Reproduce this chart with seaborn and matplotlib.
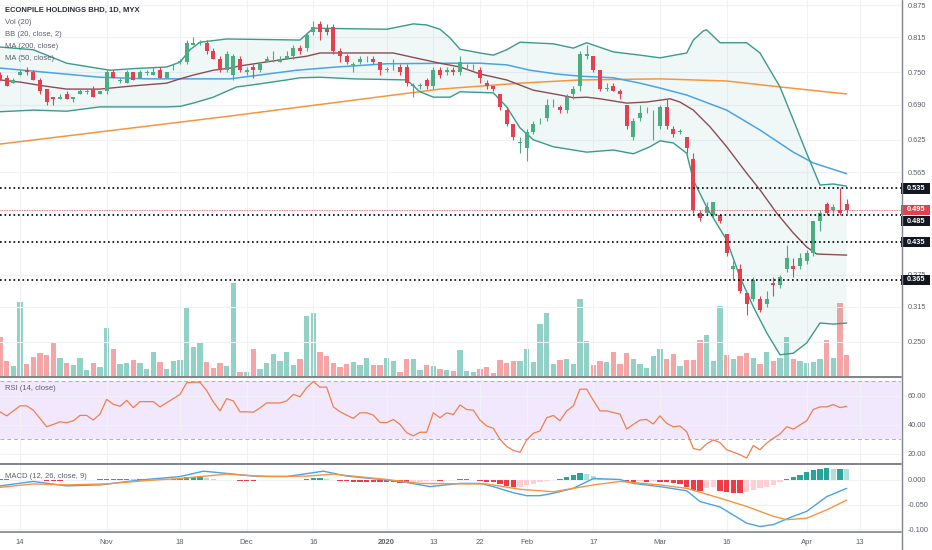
import numpy as np
import matplotlib
matplotlib.use("Agg")
import matplotlib.pyplot as plt
import seaborn as sns
from matplotlib.lines import Line2D
from matplotlib.patches import Rectangle

# ---------------- data (bar index 0 = 14 Oct 2019) ----------------
bar_idx = list(range(-3, 125))

open_ = [.745, .740, .730, .745, .755, .750, .735, .720, .705, .700,
         .710, .700, .710, .715, .720, .710, .715, .750, .735, .730,
         .750, .740, .750, .745, .755, .740, .760, .770, .770, .800,
         .805, .805, .790, .775, .755, .745, .775, .750, .760, .755,
         .770, .775, .770, .775, .780, .795, .795, .825, .840, .830,
         .835, .790, .780, .765, .770, .775, .775, .770, .755, .760,
         .760, .760, .725, .725, .735, .725, .755, .750, .755, .750,
         .760, .760, .755, .730, .725, .710, .680, .655, .620, .610,
         .640, .660, .665, .695, .685, .680, .710, .725, .780, .780,
         .755, .720, .725, .715, .690, .630, .665, .680, .660, .650,
         .685, .645, .640, .630, .590, .490, .490, .485, .485, .450,
         .385, .385, .340, .330, .330, .320, .360, .355, .385, .390,
         .390, .400, .415, .475, .505, .495, .495, .505]
high = [.750, .745, .740, .755, .760, .755, .740, .720, .705, .710,
        .715, .705, .720, .720, .725, .715, .755, .755, .740, .755,
        .750, .755, .755, .760, .760, .750, .765, .775, .810, .815,
        .810, .810, .795, .780, .790, .785, .780, .760, .765, .770,
        .780, .790, .780, .790, .800, .800, .825, .845, .845, .840,
        .840, .795, .785, .770, .780, .780, .780, .770, .760, .775,
        .765, .765, .730, .730, .740, .760, .760, .760, .760, .780,
        .765, .765, .760, .735, .725, .710, .685, .655, .630, .645,
        .660, .665, .700, .700, .690, .710, .725, .790, .800, .780,
        .755, .730, .730, .720, .690, .665, .690, .685, .680, .690,
        .700, .650, .645, .630, .600, .495, .510, .510, .485, .450,
        .400, .395, .340, .370, .335, .345, .370, .375, .430, .405,
        .415, .420, .475, .495, .510, .505, .535, .515]
low = [.735, .725, .730, .745, .745, .735, .710, .690, .690, .700,
       .700, .695, .710, .710, .705, .710, .710, .740, .730, .730,
       .735, .740, .745, .745, .740, .740, .755, .765, .765, .800,
       .800, .785, .775, .750, .750, .735, .750, .745, .740, .750,
       .770, .770, .770, .775, .775, .785, .790, .820, .810, .820,
       .785, .770, .765, .750, .765, .770, .765, .745, .750, .755,
       .745, .725, .705, .720, .720, .720, .740, .745, .745, .745,
       .755, .755, .730, .720, .715, .680, .650, .625, .600, .585,
       .635, .655, .660, .685, .675, .675, .700, .715, .775, .750,
       .715, .715, .715, .700, .645, .625, .660, .675, .625, .645,
       .645, .630, .635, .600, .490, .475, .485, .480, .470, .410,
       .365, .340, .300, .325, .305, .315, .335, .350, .380, .370,
       .385, .395, .410, .455, .485, .490, .485, .490]
close = [.735, .725, .735, .750, .750, .735, .715, .695, .700, .705,
         .700, .705, .715, .715, .705, .715, .750, .740, .735, .750,
         .735, .750, .750, .750, .740, .750, .760, .770, .805, .805,
         .805, .790, .775, .755, .785, .780, .755, .755, .755, .765,
         .775, .775, .775, .780, .795, .790, .820, .835, .825, .825,
         .790, .780, .770, .765, .775, .775, .770, .755, .755, .760,
         .750, .730, .725, .725, .725, .755, .745, .755, .750, .770,
         .760, .760, .740, .725, .720, .685, .655, .630, .620, .640,
         .655, .660, .690, .695, .680, .705, .720, .785, .785, .755,
         .720, .720, .715, .710, .650, .660, .675, .680, .660, .685,
         .650, .635, .640, .610, .495, .480, .500, .510, .475, .415,
         .390, .345, .320, .365, .310, .330, .355, .370, .405, .385,
         .405, .415, .475, .490, .490, .500, .490, .495]

volume = [39, 15, 10, 74, 12, 19, 23, 21, 33, 18,
          13, 11, 18, 6, 13, 9, 48, 27, 12, 13,
          16, 13, 7, 24, 14, 7, 15, 16, 69, 29,
          33, 14, 8, 13, 10, 93, 4, 4, 27, 7,
          13, 22, 15, 24, 11, 17, 60, 63, 24, 20,
          13, 9, 12, 14, 11, 18, 11, 11, 18, 15,
          4, 17, 17, 6, 11, 10, 7, 6, 5, 26,
          5, 4, 7, 9, 3, 16, 13, 15, 15, 27,
          14, 52, 63, 12, 16, 17, 12, 77, 35, 11,
          15, 14, 24, 12, 23, 17, 12, 8, 20, 27,
          17, 22, 10, 16, 16, 36, 41, 15, 70, 21,
          17, 20, 23, 18, 12, 24, 15, 18, 39, 17,
          15, 13, 14, 17, 36, 18, 73, 21]
volume_up = [0, 0, 1, 1, 0, 0, 0, 0, 0, 1,
             0, 1, 1, 1, 0, 1, 1, 0, 1, 1,
             0, 1, 1, 1, 0, 1, 1, 1, 1, 1,
             1, 0, 0, 0, 1, 1, 0, 1, 0, 1,
             1, 1, 1, 1, 1, 0, 1, 1, 0, 0,
             0, 0, 0, 1, 1, 1, 0, 0, 1, 1,
             0, 0, 1, 1, 0, 1, 0, 1, 0, 1,
             1, 1, 0, 0, 0, 0, 0, 0, 1, 1,
             1, 1, 1, 1, 0, 1, 1, 1, 1, 0,
             0, 1, 0, 0, 0, 1, 1, 1, 1, 1,
             0, 0, 1, 0, 0, 0, 1, 1, 1, 0,
             1, 0, 0, 1, 0, 1, 0, 1, 1, 0,
             1, 1, 1, 1, 0, 1, 0, 0]

ma200_idx = [-3, 31.5, 63, 75, 84, 96, 106, 114, 124]
ma200_val = [.617, .669, .719, .730, .736, .738, .734, .723, .710]

ma50_idx = [-3, 12, 19, 31.5, 41.5, 47.5, 55, 64.5, 69, 73, 76.5, 80.5, 84, 89,
            93, 96, 100, 106, 111, 116, 119, 124]
ma50_val = [.758, .741, .738, .738, .754, .760, .766, .767, .767, .764, .754, .747,
            .743, .740, .730, .721, .708, .680, .643, .602, .582, .562]

bb_mid_idx = [-3, 0, 3.5, 7, 12, 17, 22, 24, 26, 29, 31.5, 33, 40, 43, 45, 50, 56,
              60, 63, 66, 69, 73, 77, 81, 83, 85, 87, 91, 94, 97.5, 99, 101, 103.5,
              106, 109, 111, 113.5, 116, 118, 119.5, 124]
bb_mid_val = [.736, .732, .725, .719, .719, .725, .730, .738, .745, .754, .758, .762,
              .775, .780, .786, .786, .786, .775, .767, .760, .747, .736, .717, .708,
              .703, .704, .701, .693, .695, .701, .695, .680, .649, .612, .563, .532,
              .489, .452, .426, .413, .411]

bb_up_idx = [-3, 2, 7, 13.5, 17, 22, 24, 25.5, 27, 31, 42, 44, 55, 59, 61, 63, 64.5,
             66, 69, 71, 73, 75, 80, 83, 85, 89, 93, 96, 100, 101, 102.5, 103, 105,
             109, 111, 114, 116, 118, 120, 122, 124]
bb_up_val = [.797, .792, .767, .754, .757, .760, .769, .792, .806, .812, .810, .832,
             .830, .840, .838, .830, .814, .793, .786, .782, .792, .806, .803, .795,
             .805, .788, .782, .777, .786, .810, .827, .829, .805, .805, .786, .723,
             .662, .600, .541, .543, .539]

bb_lo_idx = [-3, 2, 7, 12, 17, 22, 24, 26, 29, 32.5, 35, 40, 42, 45, 50, 58, 60, 62,
             64.5, 66, 71, 73, 75, 77, 80, 85, 89, 92, 94.5, 96, 98, 100, 101, 103,
             106, 108, 110, 112, 114, 116, 118, 120, 122, 124]
bb_lo_val = [.677, .680, .678, .686, .686, .686, .687, .693, .704, .723, .727, .736,
             .740, .741, .738, .736, .714, .704, .704, .714, .712, .686, .647, .625,
             .612, .602, .606, .599, .612, .623, .619, .600, .550, .500, .439, .370,
             .315, .267, .226, .229, .248, .285, .283, .285]

rsi = [48.9, 46.1, 49.5, 53.0, 53.0, 50.0, 44.3, 38.6, 40.2, 42.0,
       41.4, 42.7, 46.4, 46.4, 43.2, 47.3, 57.5, 54.1, 52.7, 56.8,
       51.8, 55.9, 55.9, 55.9, 52.3, 55.2, 58.0, 60.9, 68.9, 69.3,
       69.3, 63.6, 55.7, 49.5, 58.0, 56.4, 48.9, 48.9, 48.6, 51.6,
       55.0, 55.0, 55.0, 56.4, 60.9, 59.3, 65.5, 69.8, 65.9, 65.9,
       52.3, 48.9, 46.6, 44.3, 48.2, 48.2, 46.6, 41.6, 41.4, 43.6,
       40.2, 34.5, 32.3, 34.8, 34.8, 48.2, 44.8, 48.2, 47.0, 53.6,
       50.5, 50.0, 43.2, 39.1, 37.5, 30.0, 25.0, 22.3, 20.9, 29.5,
       34.1, 35.7, 44.8, 46.4, 42.7, 49.5, 53.0, 64.5, 64.5, 56.8,
       49.5, 49.5, 48.4, 47.3, 37.0, 40.2, 43.2, 43.6, 40.5, 46.1,
       40.9, 38.6, 39.1, 35.2, 23.6, 22.5, 26.8, 29.5, 27.7, 22.7,
       21.1, 19.3, 17.0, 25.7, 22.7, 27.3, 30.7, 33.6, 38.6, 37.0,
       39.8, 42.7, 50.5, 52.3, 52.3, 53.9, 51.8, 52.7]

macd_idx = [-3, 2, 7, 12, 18, 24, 27.5, 31, 35, 40, 43, 45.5, 49, 55, 58, 61.5, 66,
            69, 71, 74, 76, 78, 80, 83, 86, 90, 92, 96, 100, 102, 105, 109, 111, 113,
            116, 118, 121, 124]
macd_val = [-.012, -.003, -.012, -.010, .000, .007, .018, .0135, .008, .007, .013,
            .018, .008, .000, -.005, -.0135, -.007, -.007, -.0135, -.026, -.032,
            -.032, -.027, -.017, .003, .001, -.007, -.0135, -.022, -.044, -.055,
            -.088, -.095, -.091, -.074, -.064, -.034, -.017]
signal_idx = [-3, 2, 7, 13, 19, 24, 31, 37, 43, 47, 55, 60, 67, 70, 75, 80, 86, 90,
              96, 100, 105, 109, 113, 115, 118, 121, 124]
signal_val = [-.015, -.008, -.010, -.008, -.001, .003, .012, .007, .008, .012, .001,
              -.007, -.008, -.008, -.019, -.024, -.010, -.003, -.010, -.017, -.037,
              -.054, -.074, -.081, -.078, -.061, -.041]
macd_hist = [.002, .002, .001, .000, -.001, -.001, -.001, -.002, -.002, -.002,
             -.001, -.001, .000, .001, .001, .002, .003, .003, .003, .003,
             .002, .002, .001, .001, .001, .001, .002, .004, .006, .007,
             .008, .005, .002, .000, -.001, -.001, -.002, -.002, -.002, -.001,
             -.001, .000, .000, .000, .001, .001, .002, .004, .005, .002,
             -.001, -.003, -.003, -.004, -.004, -.004, -.004, -.004, -.004, -.005,
             -.006, -.007, -.006, -.004, -.003, -.002, -.002, -.001, .001, .002,
             .002, .001, -.002, -.004, -.005, -.008, -.012, -.015, -.0135, -.011,
             -.008, -.005, -.002, .001, .003, .007, .010, .0135, .012, .008,
             .005, .003, .001, .000, -.005, -.005, -.002, -.005, -.003, -.005,
             -.005, -.007, -.008, -.015, -.020, -.022, -.017, -.0135, -.022, -.024,
             -.026, -.027, -.024, -.020, -.017, -.0135, -.010, -.005, .003, .007,
             .010, .017, .020, .022, .024, .022, .022, .0215]

xtick_idx = [0, 13, 24, 34, 44, 55, 62, 69, 76, 86, 96, 106, 118, 126]
xtick_lbl = ["14", "Nov", "18", "Dec", "16", "2020", "13", "22", "Feb", "17",
             "Mar", "16", "Apr", "13"]
price_ticks = [0.875, 0.815, 0.750, 0.690, 0.625, 0.565, 0.375, 0.315, 0.250]
level_lines = [0.535, 0.485, 0.435, 0.365]
level_label_shift_px = [0, 6, 0, 0]
last_price = 0.495
rsi_ticks = [60, 40, 20]
macd_ticks = [0.0, -0.05, -0.1]
macd_tick_lbl = ["0.000", "-0.050", "-0.100"]

title = "ECONPILE HOLDINGS BHD, 1D, MYX"
legend_lines = ["Vol (20)", "BB (20, close, 2)", "MA (200, close)", "MA (50, close)"]

# ---------------- style ----------------
sns.set_theme(style="white")
plt.rcParams["font.family"] = ["Liberation Sans", "DejaVu Sans"]

UP, DN = "#4bae82", "#e5404f"
VUP, VDN = "#92d1c6", "#f5a5a6"
GRID = "#f0f2f6"
TXT = "#5d606b"
FS = 5.3

W, H = 932, 550
fig = plt.figure(figsize=(W / 100, H / 100), dpi=100)


def rect(x0, y0, x1, y1):
    return [x0 / W, 1 - y1 / H, (x1 - x0) / W, (y1 - y0) / H]


ax = fig.add_axes(rect(0, 0, 901, 376))
axv = ax.twinx()
axr = fig.add_axes(rect(0, 377, 901, 463))
axm = fig.add_axes(rect(0, 464, 901, 531))

XL = (-3, 132.15)
x = np.array(bar_idx)
o, h, l, c = map(np.array, (open_, high, low, close))

# volume (behind price)
ax.set_zorder(axv.get_zorder() + 1)
ax.patch.set_visible(False)
vcol = [VUP if u else VDN for u in volume_up]
axv.bar(x, volume, width=0.78, color=vcol, linewidth=0)
axv.set_ylim(0, max(volume) * 376 / 93)
axv.set_yticks([])
axv.set_xlim(*XL)

# Bollinger fill
poly_x = list(bb_up_idx) + list(bb_lo_idx)[::-1]
poly_y = list(bb_up_val) + list(bb_lo_val)[::-1]
ax.fill(poly_x, poly_y, color="#2a9d8f", alpha=0.07, linewidth=0, zorder=1)

sns.lineplot(x=ma200_idx, y=ma200_val, ax=ax, color="#f7953f", linewidth=1.1, zorder=2)
sns.lineplot(x=ma50_idx, y=ma50_val, ax=ax, color="#4aa3e8", linewidth=1.1, zorder=2)
sns.lineplot(x=bb_mid_idx, y=bb_mid_val, ax=ax, color="#8e4b55", linewidth=1.0, zorder=2)
sns.lineplot(x=bb_up_idx, y=bb_up_val, ax=ax, color="#3c9a8b", linewidth=1.0, zorder=2)
sns.lineplot(x=bb_lo_idx, y=bb_lo_val, ax=ax, color="#3c9a8b", linewidth=1.0, zorder=2)

# candles
ccol = np.where(c >= o, UP, DN)
ax.vlines(x, l, h, colors=ccol, linewidth=0.8, zorder=4)
body_lo = np.minimum(o, c)
body_h = np.abs(c - o)
doji = body_h < 1e-9
body_lo = np.where(doji, o - 0.0007, body_lo)
body_h = np.where(doji, 0.0014, body_h)
ax.bar(x, body_h, bottom=body_lo, width=0.64, color=ccol, linewidth=0, zorder=5)

# level lines and price-scale labels
ytr = ax.get_yaxis_transform()
for lv in level_lines:
    ax.axhline(lv, color="black", linewidth=1.2, linestyle=(0, (1, 1.7)), zorder=6)
ax.axhline(last_price, color="#e5404f", linewidth=0.6, linestyle=(0, (1, 1)), zorder=6)
bh = 10.5 / 539
boxes = [(lv, sh, "#131722") for lv, sh in zip(level_lines, level_label_shift_px)]
boxes.append((last_price, 0, "#e5404f"))
for lv, sh, fc in boxes:
    yc = lv - sh / 539
    ax.add_patch(Rectangle((1.0005, yc - bh / 2), 29 / 901, bh, transform=ytr,
                           clip_on=False, facecolor=fc, edgecolor="none", zorder=9))
    ax.text(1.0005 + 14.5 / 901, yc, f"{lv:.3f}", transform=ytr, ha="center",
            va="center", fontsize=FS, color="white", fontweight="bold",
            clip_on=False, zorder=10)

ax.set_xlim(*XL)
ax.set_ylim(0.8843 - 376 / 539, 0.8843)
ax.set_xticks(xtick_idx)
ax.set_xticklabels([])
ax.set_yticks(price_ticks)
ax.set_yticklabels([f"{v:.3f}" for v in price_ticks])
ax.yaxis.tick_right()
ax.set_xlabel("")
ax.set_ylabel("")

# RSI pane
axr.axhspan(30, 70, color="#f2e8fd", linewidth=0, zorder=0)
for lv in (70, 30):
    axr.axhline(lv, color="#b9a6c9", linewidth=0.7, linestyle=(0, (4, 3)), zorder=1)
sns.lineplot(x=bar_idx, y=rsi, ax=axr, color="#f07f4a", linewidth=0.9, zorder=3)
axr.set_xlim(*XL)
axr.set_ylim(60 - (463 - 395.7) / 1.45, 60 + (395.7 - 377) / 1.45)
axr.set_xticks(xtick_idx)
axr.set_xticklabels([])
axr.set_yticks(rsi_ticks)
axr.set_yticklabels([f"{v:.2f}" for v in rsi_ticks])
axr.yaxis.tick_right()
axr.set_xlabel("")
axr.set_ylabel("")

# MACD pane
hist = np.array(macd_hist)
hcol = []
for k, v in enumerate(hist):
    prev = hist[k - 1] if k > 0 else v
    if v >= 0:
        hcol.append("#26a69a" if v >= prev else "#b2dfdb")
    else:
        hcol.append("#ef3b45" if v <= prev else "#ffcdd2")
axm.bar(x, hist, width=0.8, color=hcol, linewidth=0, zorder=2)
sns.lineplot(x=macd_idx, y=macd_val, ax=axm, color="#4aa3e8", linewidth=1.0, zorder=3)
sns.lineplot(x=signal_idx, y=signal_val, ax=axm, color="#f7953f", linewidth=1.0, zorder=3)
axm.set_xlim(*XL)
axm.set_ylim(-(531 - 480) / 490, (480 - 464) / 490)
axm.set_yticks(macd_ticks)
axm.set_yticklabels(macd_tick_lbl)
axm.yaxis.tick_right()
axm.set_xticks(xtick_idx)
axm.set_xticklabels(xtick_lbl)
axm.set_xlabel("")
axm.set_ylabel("")
for t in axm.get_xticklabels():
    if t.get_text() == "2020":
        t.set_fontweight("bold")

for a in (ax, axr, axm):
    a.grid(True, color=GRID, linewidth=0.8)
    a.set_axisbelow(True)
    for s in a.spines.values():
        s.set_visible(False)
    a.tick_params(axis="y", length=0, pad=5, labelsize=FS, labelcolor=TXT)
    a.tick_params(axis="x", length=0, pad=6, labelsize=FS + 0.2, labelcolor=TXT)
for s in axv.spines.values():
    s.set_visible(False)

# pane separators and price-scale border
sep = "#7f828a"
for yy, lw in [(376.5, 1.4), (463.5, 1.4), (531.5, 1.2)]:
    fig.add_artist(Line2D([0, 901 / W], [1 - yy / H] * 2, color=sep, linewidth=lw))
fig.add_artist(Line2D([901.5 / W] * 2, [0, 1], color=sep, linewidth=1.0))

# legends
LFS = 5.5
fig.text(5 / W, 1 - 10.5 / H, title, fontsize=LFS, color="#2a2e39", va="center",
         fontweight="bold")
for k, s in enumerate(legend_lines):
    fig.text(5 / W, 1 - (23 + 12 * k) / H, s, fontsize=LFS, color=TXT, va="center")
fig.text(5 / W, 1 - 388 / H, "RSI (14, close)", fontsize=LFS, color=TXT, va="center")
fig.text(5 / W, 1 - 476 / H, "MACD (12, 26, close, 9)", fontsize=LFS, color=TXT,
         va="center")

fig.savefig("out.png", dpi=100)
